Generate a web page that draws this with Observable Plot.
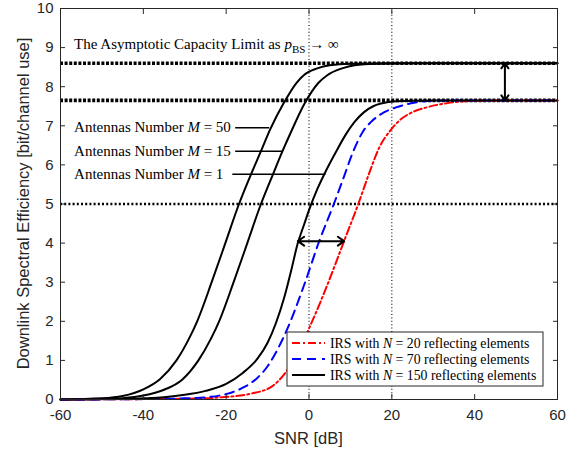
<!DOCTYPE html>
<html><head><meta charset="utf-8">
<script src="https://cdn.jsdelivr.net/npm/d3@7"></script>
<script src="https://cdn.jsdelivr.net/npm/@observablehq/plot@0.6"></script>
<style>
body{margin:0;background:#fff;}
#wrap{width:580px;height:454px;}
</style></head><body><div id="wrap"></div>
<script>
// ---- data ----
const xTicks = [-60, -40, -20, 0, 20, 40, 60];
const yTicks = [0, 1, 2, 3, 4, 5, 6, 7, 8, 9, 10];

const snrM50 = [-60, -50, -45, -40, -36, -32, -29, -27, -23.5, -20.2, -16.9, -14, -11.6, -9.4, -6, -3, -1.2, 2, 5, 10, 20, 60];
const seM50  = [0, 0.03, 0.09, 0.26, 0.52, 1.0, 1.55, 2.0, 3.0, 4.0, 5.0, 5.76, 6.35, 6.9, 7.6, 8.1, 8.3, 8.47, 8.55, 8.59, 8.6, 8.6];

const snrM15 = [-60, -50, -45, -40, -35, -30.7, -26.7, -23.7, -21.7, -18.2, -14.9, -11.6, -8.7, -6.4, -4.1, -0.9, 2.3, 4.5, 8, 11, 16, 25, 60];
const seM15  = [0, 0.015, 0.035, 0.1, 0.25, 0.5, 1.0, 1.55, 2.0, 3.0, 4.0, 5.0, 5.76, 6.35, 6.9, 7.6, 8.1, 8.3, 8.47, 8.55, 8.59, 8.6, 8.6];

const snrM1 = [-60, -45, -40, -35, -30, -25, -20, -16, -12.4, -10, -8, -6, -4.3, -2.7, -1.2, 0.2, 2, 4.1, 6.5, 8.9, 11, 13.3, 15.5, 17.4, 21, 30, 60];
const seM1  = [0, 0.01, 0.03, 0.06, 0.12, 0.22, 0.4, 0.68, 1.05, 1.45, 1.95, 2.6, 3.3, 4.0, 4.47, 4.9, 5.38, 5.85, 6.33, 6.78, 7.1, 7.35, 7.5, 7.57, 7.63, 7.65, 7.65];

const snrN70 = [-60, -40, -30, -24.5, -19.6, -15.6, -12.5, -10, -7.5, -5.1, -1.1, 2.5, 6.0, 8.1, 10.9, 13, 15, 17.4, 21, 25.4, 30, 40, 60];
const seN70  = [0, 0.01, 0.03, 0.06, 0.15, 0.32, 0.55, 0.85, 1.3, 1.84, 2.95, 4.06, 5.0, 5.6, 6.4, 6.85, 7.1, 7.3, 7.47, 7.59, 7.64, 7.65, 7.65];

const snrN20 = [-60, -40, -30, -22, -14, -9, -5.6, -2.7, 0.1, 2.9, 4.5, 8.5, 11.9, 14.3, 17, 19.8, 22, 25, 28.7, 33.5, 40, 60];
const seN20  = [0, 0.01, 0.02, 0.05, 0.15, 0.33, 0.7, 1.2, 1.84, 2.53, 2.95, 4.06, 5.0, 5.72, 6.45, 6.9, 7.15, 7.35, 7.48, 7.58, 7.64, 7.65];

const limitLevels = [8.6, 7.65];     // asymptotic capacity limits
const refLevels = [5];               // reference horizontal level
const refSnr = [0, 20];              // vertical guides
const gapArrowX = 47.3;              // vertical double arrow position
const shiftArrowY = 4.05;            // horizontal double arrow level
const shiftArrowX = [-2.7, 8.5];

const labelText = ["50", "15", "1"];
const labelY = [6.95, 6.35, 5.76];
const labelX1 = [-17.7, -17.7, -18.4];
const labelX2 = [-9.5, -6.4, 4.1];
const labelStartX = -56.6;

const legendN = ["20", "70", "150"];
const legendColors = ["#ff0000", "#0000ff", "#000000"];
const legendDash = ["8,3,2,3", "9,6", null];

// ---- build tables ----
const zip = (xs, ys) => xs.map((x, i) => ({snr: x, se: ys[i]}));
const m50 = zip(snrM50, seM50), m15 = zip(snrM15, seM15), m1 = zip(snrM1, seM1);
const n70 = zip(snrN70, seN70), n20 = zip(snrN20, seN20);
const leaders = labelY.map((y, i) => ({y, x1: labelX1[i], x2: labelX2[i]}));
const gapMid = (limitLevels[0] + limitLevels[1]) / 2;
const shiftMid = (shiftArrowX[0] + shiftArrowX[1]) / 2;
const arrows = [
  {x1: gapArrowX, x2: gapArrowX, y1: gapMid, y2: limitLevels[0]},
  {x1: gapArrowX, x2: gapArrowX, y1: gapMid, y2: limitLevels[1]},
  {x1: shiftMid, x2: shiftArrowX[0], y1: shiftArrowY, y2: shiftArrowY},
  {x1: shiftMid, x2: shiftArrowX[1], y1: shiftArrowY, y2: shiftArrowY}
];

const axisColor = "#262626";
const curve = "monotone-x";
const plot = Plot.plot({
  width: 580, height: 454,
  marginLeft: 60, marginRight: 23, marginTop: 8, marginBottom: 55,
  style: {fontFamily: "'Liberation Sans', Arial, sans-serif", fontSize: "15px", color: axisColor, background: "white", overflow: "visible"},
  x: {domain: [-60, 60]},
  y: {domain: [0, 10]},
  marks: [
    Plot.ruleX(refSnr, {stroke: "black", strokeWidth: 1.1, strokeDasharray: "1,2.4"}),
    Plot.ruleY(refLevels, {stroke: "black", strokeWidth: 2.4, strokeDasharray: "2,2.2"}),
    Plot.ruleY(limitLevels, {stroke: "black", strokeWidth: 3.6, strokeDasharray: "3,1.6"}),
    Plot.line(m50, {x: "snr", y: "se", stroke: "black", strokeWidth: 2, curve}),
    Plot.line(m15, {x: "snr", y: "se", stroke: "black", strokeWidth: 2, curve}),
    Plot.line(n20, {x: "snr", y: "se", stroke: legendColors[0], strokeWidth: 2, strokeDasharray: legendDash[0], curve}),
    Plot.line(n70, {x: "snr", y: "se", stroke: legendColors[1], strokeWidth: 2, strokeDasharray: legendDash[1], curve}),
    Plot.line(m1, {x: "snr", y: "se", stroke: "black", strokeWidth: 2, curve}),
    Plot.ruleY(leaders, {y: "y", x1: "x1", x2: "x2", stroke: "black", strokeWidth: 1.5}),
    Plot.arrow(arrows, {x1: "x1", y1: "y1", x2: "x2", y2: "y2", stroke: "black", strokeWidth: 2, headLength: 11, headAngle: 70}),
    Plot.frame({stroke: axisColor, strokeWidth: 1}),
    Plot.axisX({ticks: xTicks, tickSize: -5, tickPadding: 15, label: null, tickFormat: d => String(d), stroke: axisColor}),
    Plot.axisX({anchor: "top", ticks: xTicks, tickSize: -5, tickFormat: () => "", label: null, stroke: axisColor}),
    Plot.axisY({ticks: yTicks, tickSize: -5, tickPadding: 12, label: null, tickFormat: d => String(d), stroke: axisColor}),
    Plot.axisY({anchor: "right", ticks: yTicks, tickSize: -5, tickFormat: () => "", label: null, stroke: axisColor})
  ]
});
document.getElementById("wrap").appendChild(plot);

// ---- rich text annotations, placed through the plot's scales ----
const sx = v => plot.scale("x").apply(v);
const sy = v => plot.scale("y").apply(v);
const svg = d3.select(plot);
const serif = "'Liberation Serif', 'Times New Roman', serif";

const title = svg.append("text").attr("x", sx(labelStartX)).attr("y", sy(8.95)).attr("text-anchor", "start")
  .attr("font-family", serif).attr("font-size", 15).attr("fill", "black");
title.append("tspan").text("The Asymptotic Capacity Limit as ");
title.append("tspan").attr("font-style", "italic").text("p");
title.append("tspan").attr("font-size", 11).attr("dy", 4).text("BS");
title.append("tspan").attr("dy", -4).text(" \u2192 \u221E");

labelText.forEach((m, i) => {
  const t = svg.append("text").attr("x", sx(labelStartX)).attr("y", sy(labelY[i]) + 5).attr("text-anchor", "start")
    .attr("font-family", serif).attr("font-size", 15).attr("fill", "black");
  t.append("tspan").text("Antennas Number ");
  t.append("tspan").attr("font-style", "italic").text("M");
  t.append("tspan").text(" = " + m);
});

// axis labels
const [r0, r1] = plot.scale("x").range;
const [d0, d1] = plot.scale("y").range;
svg.append("text").attr("x", (r0 + r1) / 2).attr("y", 444).attr("text-anchor", "middle")
  .attr("font-family", "'Liberation Sans', Arial, sans-serif").attr("font-size", 16.5).attr("fill", axisColor)
  .text("SNR [dB]");
svg.append("text").attr("transform", `translate(29,${(d0 + d1) / 2}) rotate(-90)`).attr("text-anchor", "middle")
  .attr("font-family", "'Liberation Sans', Arial, sans-serif").attr("font-size", 16.5).attr("fill", axisColor)
  .text("Downlink Spectral Efficiency [bit/channel use]");

// legend
const lg = svg.append("g").attr("transform", "translate(287,332)");
lg.append("rect").attr("width", 256).attr("height", 54).attr("fill", "white").attr("stroke", axisColor).attr("stroke-width", 1);
legendN.forEach((n, i) => {
  const cy = 11 + i * 16;
  lg.append("line").attr("x1", 5).attr("x2", 38).attr("y1", cy).attr("y2", cy)
    .attr("stroke", legendColors[i]).attr("stroke-width", 2).attr("stroke-dasharray", legendDash[i]);
  const t = lg.append("text").attr("x", 43).attr("y", cy + 4.5).attr("text-anchor", "start").attr("font-family", serif)
    .attr("font-size", 13.8).attr("fill", "black");
  t.append("tspan").text("IRS with ");
  t.append("tspan").attr("font-style", "italic").text("N");
  t.append("tspan").text(" = " + n + " reflecting elements");
});
</script></body></html>
